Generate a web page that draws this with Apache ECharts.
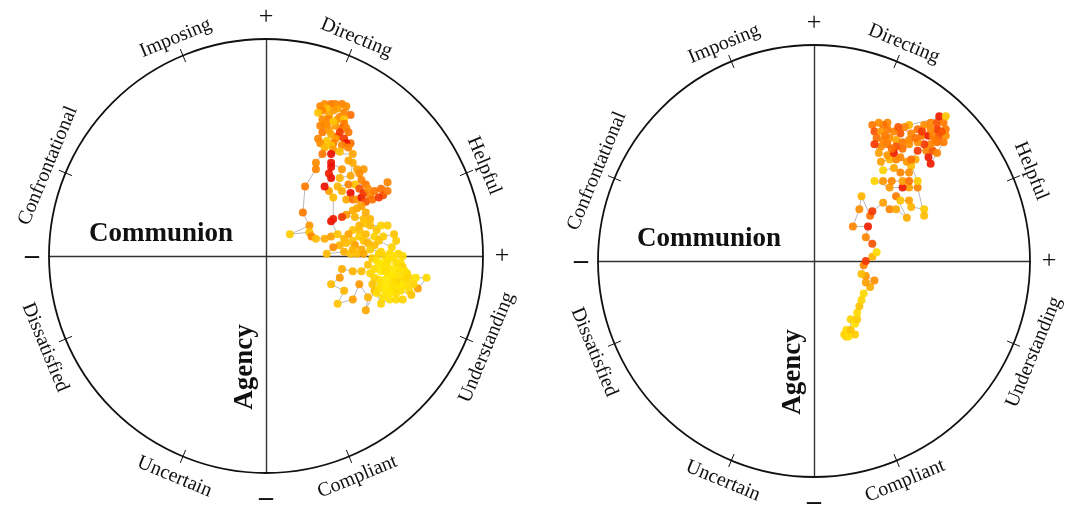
<!DOCTYPE html>
<html>
<head>
<meta charset="utf-8">
<title>Circumplex trajectories</title>
<script src="https://cdn.jsdelivr.net/npm/echarts@6/dist/echarts.min.js"></script>
<style>
  html, body { margin: 0; padding: 0; background: #fff; }
  #main { width: 1065px; height: 507px; }
</style>
</head>
<body>
<div id="main"></div>
<script>
// octant names and their angle on the circle (degrees, counter-clockwise from +x)
var octantLabels = ['Helpful', 'Directing', 'Imposing', 'Confrontational', 'Dissatisfied', 'Uncertain', 'Compliant', 'Understanding'];
var octantAngles = [22.5, 67.5, 112.5, 157.5, 202.5, 247.5, 292.5, 337.5];

// [communion, agency, intensity 0..1] in trajectory order, radius of circle = 100
var leftPath = [
  [25,69,.70],[27,70,.65],[30,70,.75],[32,70,.70],[35,70,.72],[37,69,.65],[39,65,.80],[36,66,.70],[33,68,.55],[31,67,.60],
  [28,68,.35],[26,67,.70],[24,66,.30],[26,63,.65],[29,65,.50],[29,63,.72],[33,63,.60],[34,64,.65],[36,63,.30],[36,61,.75],
  [35,59,.80],[32,60,.60],[31,62,.30],[28,60,.70],[27,61,.65],[25,60,.70],[26,57,.75],[29,58,.60],[30,56,.50],[33,55,.85],
  [34,57,.90],[37,59,.70],[38,57,.75],[36,54,.90],[39,52,.80],[37,52,.97],[35,51,.70],[32,54,.55],[31,52,.75],[28,53,.30],
  [24,54,.70],[25,52,.65],[27,50,.40],[30,51,.30],[31,49,.60],[34,48,.35],[38,50,.70],[40,47,.50],[30,47,.97],[26,47,.75],
  [23,43,.65],[23,40,.70],[18,32,.75],[17,20,.75],[20,14,.60],[11,10,.25],[20,11,.35],[21,9,.70],[23,8,.35],[27,8,.45],
  [30,9,.55],[33,10,.30],[30,16,.97],[31,17,.95],[31,27,.35],[29,30,.55],[27,32,.97],[30,36,.97],[29,38,.95],[30,41,.97],
  [30,43,.97],[35,40,.60],[34,36,.40],[39,37,.50],[40,43,.45],[38,44,.50],[42,40,.55],[45,40,.60],[43,38,.65],[44,35,.70],
  [46,33,.75],[41,33,.30],[43,31,.85],[38,33,.70],[33,32,.40],[35,30,.45],[39,29,.97],[37,26,.50],[40,26,.80],[42,26,.60],
  [44,27,.95],[45,29,.90],[47,31,.65],[46,25,.85],[48,28,.70],[49,26,.80],[50,30,.75],[53,31,.80],[54,28,.85],[56,30,.75],
  [56,34,.70],[52,27,.90],[44,23,.55],[42,22,.50],[40,21,.45],[37,19,.60],[35,18,.90],[41,18,.40],[45,17,.35],[46,20,.45],
  [48,17,.40],[46,15,.30],[48,14,.35],[51,12,.30],[53,14,.20],[56,14,.25],[43,14,.40],[43,12,.35],[40,12,.30],[38,10,.55],
  [36,8,.40],[40,7,.30],[43,9,.25],[46,10,.35],[45,7,.30],[50,9,.20],[54,9,.25],[59,10,.30],[60,7,.25],[58,4,.20],
  [52,7,.30],[50,5,.35],[47,6,.40],[44,3,.45],[41,5,.55],[37,6,.35],[34,5,.40],[31,4,.65],[28,1,.35],[36,2,.45],
  [39,1,.30],[40,3,.40],[42,1,.35],[45,1,.50],[48,3,.25],[53,2,.20],[57,1,.15],[61,1,.20],[63,0,.15],[59,0,.10],
  [55,0,.15],[52,1,.20],[49,-1,.25],[47,-4,.30],[44,-7,.35],[40,-7,.40],[35,-6,.45],[34,-10,.60],[30,-13,.35],[36,-16,.40],
  [33,-22,.30],[40,-20,.55],[43,-13,.60],[47,-19,.40],[46,-25,.50],[50,-16,.35],[48,-8,.20],[50,-6,.15],[51,-2,.10],[54,-3,.05],
  [56,-3,.12],[57,-1,.10],[60,-3,.15],[62,-3,.10],[63,-5,.20],[65,-8,.15],[64,-7,.12],[61,-6,.10],[61,-8,.10],[58,-6,.05],
  [55,-5,.10],[52,-4,.08],[53,-7,.05],[55,-7,.12],[56,-8,.10],[58,-9,.06],[59,-10,.05],[62,-11,.10],[64,-10,.15],[66,-10,.20],
  [69,-10,.10],[74,-10,.15],[70,-15,.55],[68,-13,.20],[65,-13,.15],[63,-14,.08],[66,-16,.15],[67,-18,.30],[62,-16,.10],[61,-13,.05],
  [60,-12,.18],[58,-12,.10],[55,-11,.05],[52,-11,.10],[50,-10,.20],[49,-13,.30],[53,-13,.10],[52,-15,.12],[55,-16,.08],[56,-14,.05],
  [59,-14,.10],[58,-16,.10],[60,-17,.15],[57,-17,.05],[54,-19,.10],[51,-17,.15],[53,-22,.20],[57,-20,.10],[60,-20,.15],[63,-20,.20]
];

var rightPath = [
  [15,-35,.35],[14,-34,.20],[16,-35,.10],[19,-34,.25],[15,-32,.15],[17,-32,.30],[17,-27,.20],[19,-29,.10],[20,-27,.25],[20,-24,.15],
  [21,-21,.30],[22,-18,.20],[23,-15,.15],[26,-12,.45],[24,-10,.55],[28,-9,.65],[24,-7,.60],[22,-6,.35],[23,-2,.70],[24,0,.90],
  [27,2,.40],[29,4,.15],[27,8,.85],[24,11,.70],[25,16,.95],[18,16,.70],[21,24,.65],[22,30,.40],[26,21,.80],[27,23,.90],
  [32,27,.55],[35,24,.70],[38,24,.50],[43,20,.45],[38,30,.75],[40,28,.30],[44,28,.55],[45,25,.40],[51,24,.25],[51,21,.35],
  [48,34,.70],[44,34,.55],[41,34,.95],[35,34,.60],[28,37,.20],[32,37,.60],[36,37,.70],[41,37,.55],[44,37,.80],[48,37,.25],
  [45,44,.35],[44,41,.65],[40,41,.70],[37,43,.50],[32,42,.20],[31,46,.55],[35,47,.40],[38,47,.70],[43,46,.60],[47,47,.45],
  [45,47,.80],[48,51,.90],[52,51,.70],[55,51,.85],[53,48,.95],[54,45,.95],[57,50,.70],[60,55,.75],[57,55,.80],[54,54,.70],
  [51,54,.90],[48,55,.65],[50,58,.75],[53,58,.95],[55,58,.70],[58,58,.85],[61,58,.65],[61,61,.75],[57,61,.90],[54,61,.70],
  [51,63,.65],[48,61,.80],[54,64,.70],[57,64,.85],[60,64,.75],[58,67,.95],[61,67,.30],[44,63,.40],[42,62,.70],[40,59,.85],
  [37,60,.70],[34,61,.75],[34,64,.70],[32,63,.80],[30,64,.65],[27,63,.75],[28,60,.85],[31,60,.60],[29,57,.80],[32,56,.70],
  [35,57,.65],[38,56,.50],[41,55,.75],[44,56,.70],[44,54,.65],[41,52,.80],[38,53,.85],[34,54,.75],[31,53,.70],[28,54,.90],
  [30,50,.55],[34,49,.60],[37,50,.95],[40,48,.70],[36,52,.80],[33,58,.75],[39,62,.85],[45,59,.70],[47,57,.80],[50,60,.90],
  [56,56,.75],[59,60,.85]
];

var heatColors = ['#ffee00', '#ffd200', '#ffb400', '#ff9800', '#ff7000', '#e80000'];
var serifFont = '"Liberation Serif", "DejaVu Serif", serif';

// square boxes (px) that hold each circle
var panels = [
  { left: 49, top: 39, size: 434, path: leftPath },
  { left: 598, top: 45, size: 432, path: rightPath }
];

/*circle, octant ticks and all the texts of one panel*/
function buildDecor(p) {
  var cx = p.left + p.size / 2, cy = p.top + p.size / 2, r = p.size / 2;
  var els = [];
  els.push({
    type: 'circle', shape: { cx: cx, cy: cy, r: r },
    style: { fill: 'none', stroke: '#111', lineWidth: 1.8 }, z: 1
  });
  for (var i = 0; i < octantAngles.length; i++) {
    var a = octantAngles[i];
    var rad = a * Math.PI / 180, c = Math.cos(rad), s = Math.sin(rad);
    els.push({
      type: 'line',
      shape: { x1: cx + (r - 7) * c, y1: cy - (r - 7) * s, x2: cx + (r + 7) * c, y2: cy - (r + 7) * s },
      style: { stroke: '#111', lineWidth: 1 }, z: 1
    });
    var upper = s > 0;
    var d = r + (upper ? 19 : 22);
    var rot = upper ? a - 90 : a - 270;
    els.push({
      type: 'text', x: cx + d * c, y: cy - d * s, rotation: rot * Math.PI / 180, z: 5,
      style: { text: octantLabels[i], fontSize: 20, fontFamily: serifFont, fill: '#111', align: 'center', verticalAlign: 'middle' }
    });
  }
  var signs = [
    ['+', cx, cy - r - 22], ['\u2013', cx, cy + r + 25],
    ['\u2013', cx - r - 17, cy], ['+', cx + r + 19, cy]
  ];
  signs.forEach(function (sg) {
    var plus = sg[0] == '+';
    els.push({
      type: 'text', x: sg[1], y: sg[2], z: 5,
      style: { text: sg[0], fontSize: plus ? 26 : 28, fontWeight: plus ? 'normal' : 'bold', fontFamily: serifFont, fill: '#111', align: 'center', verticalAlign: 'middle' }
    });
  });
  els.push({
    type: 'text', x: cx - 105, y: cy - 22, z: 5,
    style: { text: 'Communion', fontSize: 27, fontWeight: 'bold', fontFamily: serifFont, fill: '#111', align: 'center', verticalAlign: 'middle' }
  });
  els.push({
    type: 'text', x: cx - 21, y: cy + 111, rotation: Math.PI / 2, z: 5,
    style: { text: 'Agency', fontSize: 27, fontWeight: 'bold', fontFamily: serifFont, fill: '#111', align: 'center', verticalAlign: 'middle' }
  });
  return els;
}

var grids = [], xAxes = [], yAxes = [], series = [], graphics = [], scatterIdx = [];
panels.forEach(function (p, i) {
  grids.push({ left: p.left, top: p.top, width: p.size, height: p.size });
  var axisBase = {
    gridIndex: i, type: 'value', min: -100, max: 100,
    axisLine: { show: true, onZero: true, lineStyle: { color: '#333', width: 1.4 } },
    axisTick: { show: false }, axisLabel: { show: false }, splitLine: { show: false }
  };
  xAxes.push(Object.assign({}, axisBase));
  yAxes.push(Object.assign({}, axisBase));
  var xy = p.path.map(function (d) { return [d[0], d[1]]; });
  series.push({
    type: 'line', xAxisIndex: i, yAxisIndex: i, data: xy, symbol: 'none', silent: true, z: 2,
    lineStyle: { color: '#b8b8b8', width: 1 }
  });
  scatterIdx.push(series.length);
  series.push({
    type: 'scatter', xAxisIndex: i, yAxisIndex: i, data: p.path, symbolSize: 8, z: 3,
    itemStyle: { opacity: 0.92 }
  });
  graphics = graphics.concat(buildDecor(p));
});

var myChart = echarts.init(document.getElementById('main'));
myChart.setOption({
  animation: false,
  backgroundColor: '#fff',
  grid: grids,
  xAxis: xAxes,
  yAxis: yAxes,
  visualMap: {
    show: false, type: 'continuous', dimension: 2, min: 0, max: 1,
    seriesIndex: scatterIdx, inRange: { color: heatColors }
  },
  series: series,
  graphic: graphics
});
</script>
</body>
</html>
